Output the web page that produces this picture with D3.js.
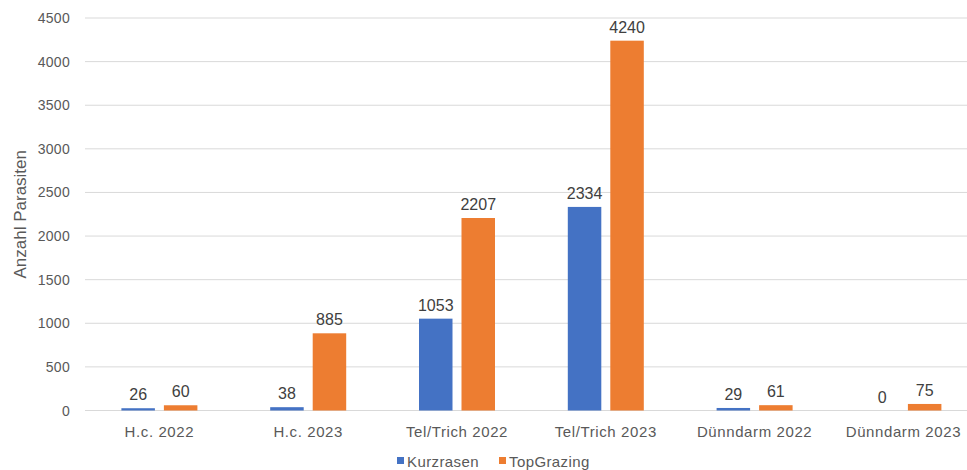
<!DOCTYPE html>
<meta charset="utf-8">
<head>
  <title>Anzahl Parasiten</title>
</head>
<style>
body { margin: 0; background: #fff; font-family: "Liberation Sans", Arial, sans-serif; }
</style>
<body>
<svg id="chart" width="967" height="470"></svg>
<script src="https://cdn.jsdelivr.net/npm/d3@7"></script>
<script>
var categories = ["H.c. 2022", "H.c. 2023", "Tel/Trich 2022", "Tel/Trich 2023", "Dünndarm 2022", "Dünndarm 2023"];
var seriesNames = ["Kurzrasen", "TopGrazing"];
var kurzrasen = [26, 38, 1053, 2334, 29, 0];
var topGrazing = [60, 885, 2207, 4240, 61, 75];
var yTicks = [0, 500, 1000, 1500, 2000, 2500, 3000, 3500, 4000, 4500];
var colors = ["#4472C4", "#ED7D31"];

var svg = d3.select("#chart");
var plotLeft = 85, plotTop = 18, plotBottom = 410.5, band = 148.8;

var x = d3.scaleBand()
  .domain(categories)
  .range([plotLeft, plotLeft + band * categories.length]);

var y = d3.scaleLinear()
  .domain([0, 4500])
  .range([plotBottom, plotTop]);

// grid
svg.append("g").selectAll("line")
  .data(yTicks)
  .join("line")
  .attr("x1", plotLeft).attr("x2", 967)
  .attr("y1", d => y(d)).attr("y2", d => y(d))
  .attr("stroke", "#d9d9d9").attr("stroke-width", 1);

// y axis labels
svg.append("g").selectAll("text")
  .data(yTicks)
  .join("text")
  .attr("x", 70).attr("y", d => y(d) + 5)
  .attr("text-anchor", "end")
  .attr("font-size", 14)
  .attr("letter-spacing", 0.3)
  .attr("fill", "#595959")
  .text(d => d);

svg.append("text")
  .attr("transform", "translate(26," + ((plotTop + plotBottom) / 2) + ") rotate(-90)")
  .attr("text-anchor", "middle")
  .attr("font-size", 17)
  .attr("fill", "#595959")
  .text("Anzahl Parasiten");

// x labels
svg.append("g").selectAll("text")
  .data(categories)
  .join("text")
  .attr("x", d => x(d) + x.bandwidth() / 2)
  .attr("y", 437)
  .attr("text-anchor", "middle")
  .attr("font-size", 15)
  .attr("letter-spacing", 0.6)
  .attr("fill", "#595959")
  .text(d => d);

var barW = 33.5, gap = 9;
var inner = d3.scaleOrdinal().domain([0, 1]).range([-gap / 2 - barW, gap / 2]);

[kurzrasen, topGrazing].forEach(function(vals, s) {
  var g = svg.append("g");
  var data = categories.map((c, i) => ({ c: c, v: vals[i] }));
  g.selectAll("rect")
    .data(data)
    .join("rect")
    .attr("x", d => x(d.c) + x.bandwidth() / 2 + inner(s))
    .attr("y", d => y(d.v))
    .attr("width", barW)
    .attr("height", d => plotBottom - y(d.v))
    .attr("fill", colors[s]);
  g.selectAll("text")
    .data(data)
    .join("text")
    .attr("x", d => x(d.c) + x.bandwidth() / 2 + inner(s) + barW / 2)
    .attr("y", d => y(d.v) - 8)
    .attr("text-anchor", "middle")
    .attr("font-size", 16)
    .attr("fill", "#404040")
    .text(d => d.v);
});

// legend
var legX = [397, 499];
seriesNames.forEach(function(n, i) {
  svg.append("rect")
    .attr("x", legX[i]).attr("y", 457)
    .attr("width", 7).attr("height", 7)
    .attr("fill", colors[i]);
  svg.append("text")
    .attr("x", legX[i] + 10).attr("y", 467)
    .attr("font-size", 15)
    .attr("letter-spacing", 0.4)
    .attr("fill", "#595959")
    .text(n);
});
</script>
</body>
</html>
